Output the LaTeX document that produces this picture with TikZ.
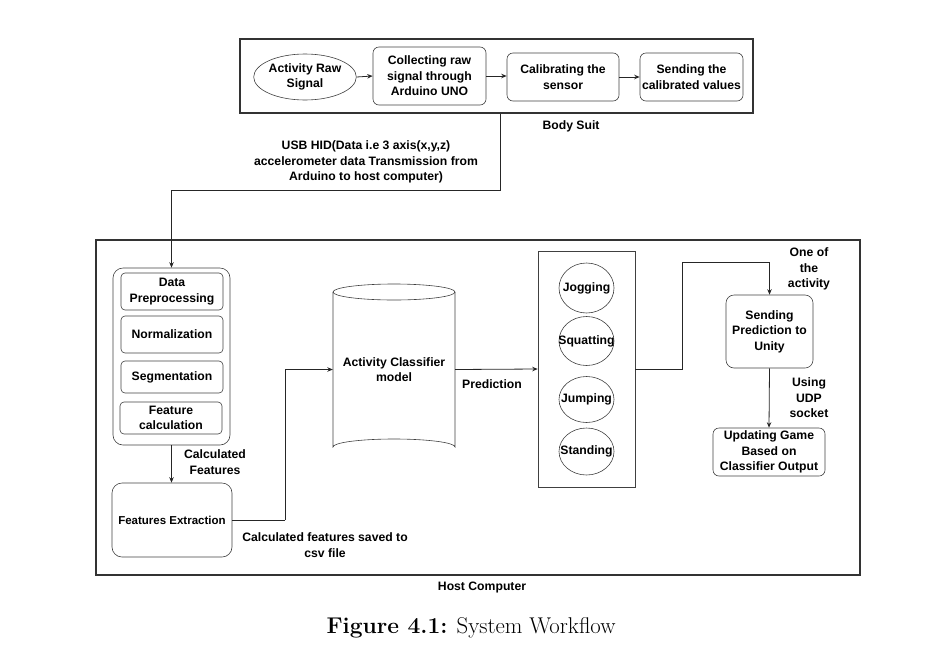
\documentclass[tikz,border=0pt]{standalone}
\usepackage{fontspec}
\setsansfont{Liberation Sans}
\usetikzlibrary{arrows.meta,shapes.geometric}
\begin{document}
\begin{tikzpicture}[x=1pt,y=-1pt,
  txt/.style={font=\sffamily\bfseries\fontsize{12.2}{15.5}\selectfont,align=center},
  rbox/.style={draw=black!75,line width=0.6pt,rounded corners=6pt,txt,inner sep=0pt},
  frame/.style={draw=black!80,line width=1.3pt,inner sep=0pt},
  lbl/.style={txt},
  circ/.style={draw=black!75,line width=0.6pt,ellipse,minimum width=55,inner sep=0pt},
  arr/.style={draw=black!85,line width=0.8pt,-{Stealth[length=5.5pt,width=4.5pt]}},
  ln/.style={draw=black!85,line width=0.8pt}]
\useasboundingbox (0,0) rectangle (936,667);
% Body suit
\node[frame,minimum width=513,minimum height=74] (suit) at (496.5,76) {};
\node[draw=black!75,line width=0.6pt,ellipse,minimum width=102,minimum height=46,txt,inner sep=0pt] (raw) at (305,77) {Activity Raw\\Signal};
\node[rbox,minimum width=113,minimum height=58] (col) at (429.5,76) {Collecting raw\\signal through\\Arduino UNO};
\node[rbox,minimum width=112,minimum height=48] (cal) at (563,77) {Calibrating the\\sensor};
\node[rbox,minimum width=103,minimum height=48] (snd) at (691.5,77) {Sending the\\calibrated values};
\draw[arr] (raw.east) -- (col.west);
\draw[arr] (col.east) -- (col.east -| cal.west);
\draw[arr] (cal.east) -- (cal.east -| snd.west);
\node[lbl] (bs) at (571,126) {Body Suit};
\node[lbl] (usb) at (366,162) {USB HID(Data i.e 3 axis(x,y,z)\\accelerometer data Transmission from\\Arduino to host computer)};
% Host computer
\node[frame,minimum width=764,minimum height=335] (host) at (478,407.5) {};
\node[lbl] (hc) at (482,587) {Host Computer};
% preprocessing group
\node[draw=black!75,line width=0.6pt,rounded corners=10pt,minimum width=117,minimum height=177,inner sep=0pt] (grp) at (171.5,356.5) {};
\node[rbox,rounded corners=4pt,minimum width=102,minimum height=37] (dp) at (172,291.5) {Data\\Preprocessing};
\node[rbox,rounded corners=4pt,minimum width=102,minimum height=37] (nm) at (172,334.5) {Normalization};
\node[rbox,rounded corners=4pt,minimum width=102,minimum height=32] (sg) at (172,377) {Segmentation};
\node[rbox,rounded corners=4pt,minimum width=102,minimum height=32] (fc) at (171,418) {Feature\\calculation};
\node[rbox,rounded corners=10pt,minimum width=120,minimum height=74,font=\sffamily\bfseries\fontsize{11.5}{14}\selectfont] (fe) at (172,520) {Features Extraction};
% USB connector
\draw[ln] ([xshift=3.5pt]suit.south) -- ++(0,77) coordinate (u1);
\draw[arr] (u1) -| (grp.north);
\draw[arr] (grp.south) -- (grp.south |- fe.north);
\node[lbl] (cf) at (215,462) {Calculated\\Features};
% classifier cylinder
\node[minimum width=122,minimum height=171,inner sep=0pt,txt] (cyl) at (394,369.5) {Activity Classifier\\model};
\draw[draw=black!75,line width=0.6pt] (333,292) -- (333,447) arc[start angle=180,end angle=360,x radius=61,y radius=8] -- (455,292);
\draw[draw=black!75,line width=0.6pt] (394,292) ellipse[x radius=61,y radius=8];
\draw[ln] (fe.east) -- ++(53,0) coordinate (t1);
\draw[arr] (t1) |- (cyl.west);
\node[lbl] (cfs) at (325,545) {Calculated features saved to\\csv file};
% activities
\node[draw=black!75,line width=0.6pt,minimum width=97,minimum height=236,inner sep=0pt] (act) at (586.5,369) {};
\draw[arr] (cyl.east) -- (act.west);
\node[lbl] (pred) at (492,384) {Prediction};
\node[circ,minimum height=50,label={[txt]center:Jogging}] (jog) at (586.5,288) {};
\node[circ,minimum height=49,label={[txt]center:Squatting}] (squ) at (586.5,341) {};
\node[circ,minimum height=46,label={[txt]center:Jumping}] (jum) at (586.5,399.5) {};
\node[circ,minimum height=47,label={[txt]center:Standing}] (sta) at (586.5,451.5) {};
% right side
\node[rbox,rounded corners=8pt,minimum width=87,minimum height=73] (spu) at (769.5,331.5) {Sending\\Prediction to\\Unity};
\node[rbox,minimum width=112,minimum height=48] (upd) at (769,452) {Updating Game\\Based on\\Classifier Output};
\coordinate (turn) at (682,262);
\draw[arr] (act.east) -| (turn) -| (spu.north);
\node[lbl] (one) at (809,269) {One of\\the\\activity};
\draw[arr] (spu.south) -- (upd.north);
\node[lbl] (udp) at (809,398) {Using\\UDP\\socket};
% caption
\node[font=\fontsize{22.8}{26}\selectfont] (cap) at (471,628) {\textbf{Figure 4.1:} System Workflow};
\end{tikzpicture}
\end{document}
